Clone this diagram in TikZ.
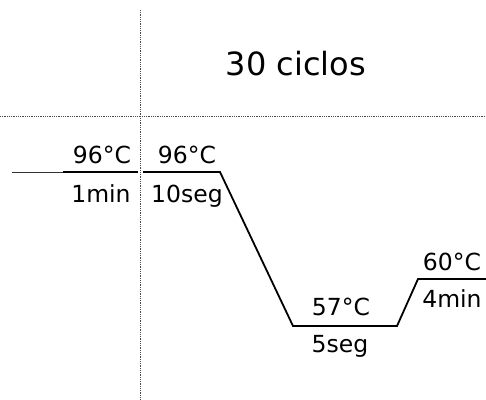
\documentclass[tikz,border=0pt]{standalone}
\usepackage{fontspec}
\setmainfont{DejaVu Sans}
\begin{document}
\begin{tikzpicture}[x=1pt,y=-1pt,
  guide/.style={densely dotted, line width=0.8pt, black!70},
  profile/.style={line width=1.8pt, black},
  lbl/.style={font=\fontsize{23.5}{26}\selectfont, inner sep=0pt, anchor=base},
  title/.style={font=\fontsize{32}{38}\selectfont, inner sep=0pt, anchor=base}]
\useasboundingbox (0,0) rectangle (486,399);
% guides
\coordinate (vtop) at (140,10);
\coordinate (vbot) at (140,399);
\coordinate (hl) at (0,116);
\coordinate (hr) at (486,116);
\draw[guide] (vtop) -- (vbot);
\draw[guide] (hl) -- (hr);
% profile
\coordinate (p0) at (12,172);
\coordinate (p1) at (63,172);
\coordinate (p2) at (138,172);
\coordinate (p3) at (143,172);
\coordinate (p4) at (220,172);
\coordinate (p5) at (293,326);
\coordinate (p6) at (397,326);
\coordinate (p7) at (418,279);
\coordinate (p8) at (486,279);
\draw[line width=1pt, black!80] (p0) -- (p1);
\draw[profile] (p1) -- (p2);
\draw[profile, line join=miter] (p3) -- (p4) -- (p5) -- (p6) -- (p7) -- (p8);
% labels
\node[title] (t) at (296,75) {30 ciclos};
\node[lbl] (a1) at (102,163) {96°C};
\node[lbl] (a2) at (101,202) {1min};
\node[lbl] (b1) at (187,163) {96°C};
\node[lbl] (b2) at (187,202) {10seg};
\node[lbl] (c1) at (341,315) {57°C};
\node[lbl] (c2) at (340,352) {5seg};
\node[lbl] (d1) at (452,270) {60°C};
\node[lbl] (d2) at (452,307) {4min};
\end{tikzpicture}
\end{document}
